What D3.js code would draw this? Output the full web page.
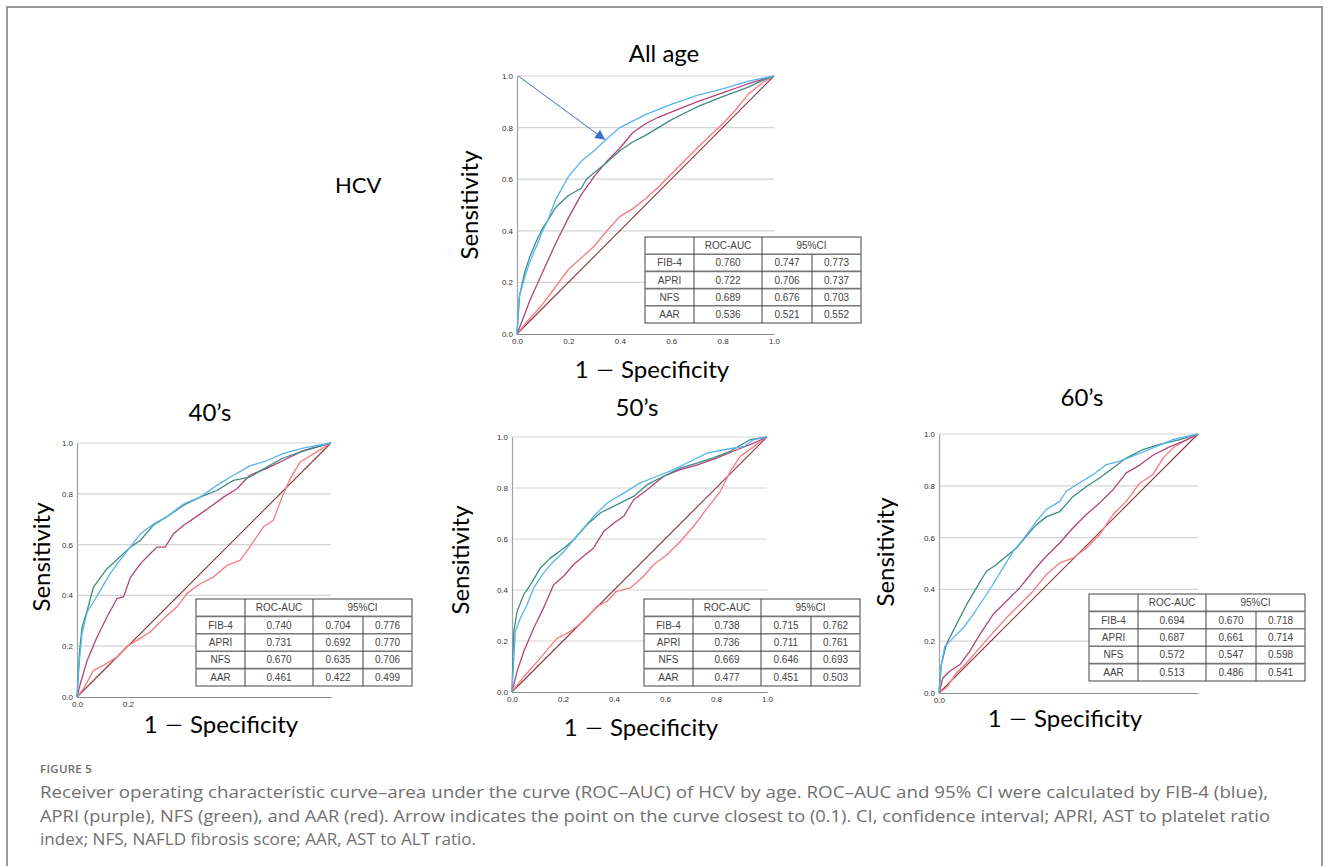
<!DOCTYPE html>
<html><head><meta charset="utf-8">
<script src="https://cdn.jsdelivr.net/npm/d3@7"></script>
<style>
html,body{margin:0;padding:0;background:#fff;}
svg{display:block;}
</style></head>
<body>
<svg id="c" width="1330" height="866"></svg>
<script>
// ---------- DATA ----------
const seriesNames = ["FIB-4", "APRI", "NFS", "AAR"];
const panelTitles = ["All age", "40’s", "50’s", "60’s"];
const yTickValues = [0, 0.2, 0.4, 0.6, 0.8, 1.0];
const xTicksAllAge = [0, 0.2, 0.4, 0.6, 0.8, 1.0];
const xTicks40 = [0, 0.2];
const xTicks50 = [0, 0.2, 0.4, 0.6, 0.8, 1.0];
const xTicks60 = [0];

// All age
const allAgeFIB4 = [[0,0],[0.005,0.10],[0.01,0.15],[0.03,0.22],[0.05,0.28],[0.08,0.35],[0.10,0.40],[0.12,0.44],[0.15,0.52],[0.20,0.61],[0.25,0.67],[0.30,0.71],[0.35,0.757],[0.40,0.80],[0.50,0.85],[0.60,0.89],[0.70,0.925],[0.80,0.95],[0.90,0.98],[1,1]];
const allAgeAPRI = [[0,0],[0.02,0.05],[0.05,0.13],[0.10,0.24],[0.15,0.35],[0.20,0.45],[0.25,0.54],[0.30,0.61],[0.35,0.67],[0.40,0.72],[0.45,0.78],[0.50,0.815],[0.55,0.84],[0.60,0.86],[0.70,0.90],[0.80,0.935],[0.90,0.97],[1,1]];
const allAgeNFS = [[0,0],[0.01,0.15],[0.03,0.24],[0.05,0.30],[0.08,0.37],[0.10,0.41],[0.12,0.44],[0.15,0.49],[0.20,0.537],[0.25,0.565],[0.27,0.60],[0.35,0.666],[0.40,0.71],[0.45,0.744],[0.50,0.77],[0.60,0.83],[0.70,0.88],[0.80,0.92],[0.90,0.957],[0.95,0.98],[1,1]];
const allAgeAAR = [[0,0],[0.05,0.06],[0.10,0.116],[0.20,0.25],[0.30,0.34],[0.35,0.40],[0.40,0.455],[0.45,0.485],[0.50,0.524],[0.55,0.57],[0.60,0.62],[0.70,0.72],[0.80,0.815],[0.85,0.867],[0.90,0.93],[0.95,0.97],[1,1]];

// 40's
const age40FIB4 = [[0,0],[0.01,0.15],[0.02,0.25],[0.04,0.335],[0.065,0.374],[0.092,0.42],[0.13,0.485],[0.17,0.54],[0.21,0.59],[0.25,0.643],[0.30,0.68],[0.354,0.71],[0.42,0.76],[0.485,0.787],[0.55,0.833],[0.616,0.873],[0.68,0.91],[0.747,0.93],[0.81,0.958],[0.89,0.98],[1,1]];
const age40APRI = [[0,0],[0.013,0.052],[0.04,0.144],[0.079,0.236],[0.118,0.315],[0.157,0.387],[0.183,0.394],[0.21,0.47],[0.25,0.525],[0.288,0.564],[0.315,0.59],[0.347,0.59],[0.38,0.643],[0.42,0.676],[0.47,0.71],[0.524,0.748],[0.577,0.787],[0.63,0.82],[0.68,0.873],[0.747,0.90],[0.81,0.93],[0.89,0.97],[1,1]];
const age40NFS = [[0,0],[0.01,0.18],[0.02,0.275],[0.04,0.34],[0.065,0.433],[0.085,0.46],[0.118,0.505],[0.157,0.54],[0.21,0.59],[0.25,0.617],[0.30,0.676],[0.354,0.71],[0.42,0.755],[0.485,0.787],[0.55,0.813],[0.616,0.853],[0.68,0.866],[0.747,0.905],[0.81,0.94],[0.878,0.964],[1,1]];
const age40AAR = [[0,0],[0.026,0.033],[0.065,0.105],[0.105,0.125],[0.157,0.157],[0.197,0.20],[0.236,0.223],[0.288,0.256],[0.34,0.308],[0.393,0.354],[0.432,0.407],[0.485,0.446],[0.537,0.472],[0.59,0.518],[0.642,0.538],[0.68,0.59],[0.734,0.67],[0.773,0.696],[0.81,0.794],[0.84,0.86],[0.878,0.925],[0.944,0.965],[1,1]];

// 50's
const age50FIB4 = [[0,0],[0.007,0.133],[0.013,0.238],[0.033,0.29],[0.059,0.342],[0.085,0.408],[0.124,0.467],[0.163,0.512],[0.203,0.55],[0.242,0.597],[0.28,0.642],[0.32,0.689],[0.373,0.741],[0.438,0.78],[0.503,0.82],[0.569,0.846],[0.634,0.872],[0.70,0.905],[0.765,0.937],[0.83,0.95],[0.91,0.963],[0.948,0.99],[1,1]];
const age50APRI = [[0,0],[0.02,0.081],[0.046,0.159],[0.085,0.25],[0.124,0.33],[0.163,0.42],[0.203,0.455],[0.242,0.50],[0.28,0.532],[0.32,0.565],[0.36,0.63],[0.40,0.663],[0.438,0.689],[0.477,0.754],[0.53,0.793],[0.595,0.846],[0.66,0.872],[0.725,0.89],[0.804,0.918],[0.882,0.95],[0.948,0.976],[1,1]];
const age50NFS = [[0,0],[0.007,0.238],[0.02,0.316],[0.046,0.382],[0.072,0.42],[0.111,0.486],[0.15,0.525],[0.203,0.564],[0.242,0.597],[0.294,0.656],[0.346,0.702],[0.412,0.735],[0.477,0.767],[0.53,0.813],[0.595,0.846],[0.66,0.878],[0.725,0.898],[0.79,0.918],[0.856,0.944],[0.935,0.99],[1,1]];
const age50AAR = [[0,0],[0.046,0.06],[0.111,0.133],[0.176,0.21],[0.229,0.238],[0.28,0.277],[0.333,0.336],[0.373,0.356],[0.41,0.395],[0.464,0.408],[0.516,0.454],[0.556,0.50],[0.608,0.538],[0.66,0.59],[0.712,0.65],[0.765,0.72],[0.817,0.787],[0.856,0.865],[0.895,0.924],[0.948,0.963],[1,1]];

// 60's
const age60FIB4 = [[0,0],[0.009,0.109],[0.022,0.18],[0.054,0.212],[0.093,0.251],[0.131,0.302],[0.17,0.36],[0.208,0.418],[0.247,0.483],[0.286,0.547],[0.324,0.592],[0.376,0.663],[0.414,0.708],[0.466,0.74],[0.492,0.78],[0.543,0.812],[0.595,0.843],[0.646,0.882],[0.698,0.895],[0.762,0.92],[0.826,0.946],[0.903,0.978],[1,1]];
const age60APRI = [[0,0],[0.015,0.058],[0.041,0.084],[0.08,0.109],[0.118,0.16],[0.157,0.225],[0.208,0.302],[0.26,0.354],[0.311,0.405],[0.363,0.47],[0.414,0.528],[0.466,0.579],[0.517,0.637],[0.569,0.689],[0.62,0.734],[0.672,0.785],[0.723,0.85],[0.775,0.88],[0.826,0.918],[0.89,0.95],[0.955,0.976],[1,1]];
const age60NFS = [[0,0],[0.009,0.109],[0.028,0.187],[0.067,0.264],[0.106,0.34],[0.144,0.405],[0.183,0.47],[0.221,0.495],[0.26,0.528],[0.30,0.56],[0.337,0.605],[0.376,0.65],[0.414,0.68],[0.466,0.70],[0.517,0.758],[0.569,0.797],[0.62,0.83],[0.672,0.869],[0.723,0.907],[0.787,0.94],[0.852,0.96],[0.93,0.978],[1,1]];
const age60AAR = [[0,0],[0.028,0.019],[0.067,0.077],[0.106,0.116],[0.157,0.174],[0.208,0.232],[0.26,0.29],[0.311,0.341],[0.363,0.393],[0.414,0.457],[0.466,0.502],[0.517,0.521],[0.569,0.56],[0.62,0.611],[0.672,0.689],[0.723,0.74],[0.775,0.81],[0.826,0.843],[0.865,0.907],[0.903,0.946],[0.955,0.978],[1,1]];

// tables: ROC-AUC, CI low, CI high
const aucAllAge = ["0.760","0.722","0.689","0.536"];
const ciLowAllAge = ["0.747","0.706","0.676","0.521"];
const ciHighAllAge = ["0.773","0.737","0.703","0.552"];
const auc40 = ["0.740","0.731","0.670","0.461"];
const ciLow40 = ["0.704","0.692","0.635","0.422"];
const ciHigh40 = ["0.776","0.770","0.706","0.499"];
const auc50 = ["0.738","0.736","0.669","0.477"];
const ciLow50 = ["0.715","0.711","0.646","0.451"];
const ciHigh50 = ["0.762","0.761","0.693","0.503"];
const auc60 = ["0.694","0.687","0.572","0.513"];
const ciLow60 = ["0.670","0.661","0.547","0.486"];
const ciHigh60 = ["0.718","0.714","0.598","0.541"];

const arrowFrom = [0.005, 1.0];
const arrowTo = [0.34, 0.755];

const captionLabel = "FIGURE 5";
const captionLines = [
  "Receiver operating characteristic curve–area under the curve (ROC–AUC) of HCV by age. ROC–AUC and 95% CI were calculated by FIB-4 (blue),",
  "APRI (purple), NFS (green), and AAR (red). Arrow indicates the point on the curve closest to (0.1). CI, confidence interval; APRI, AST to platelet ratio",
  "index; NFS, NAFLD fibrosis score; AAR, AST to ALT ratio."
];

// ---------- DRAW ----------
const svg = d3.select("#c");
const colors = {"FIB-4":"#56b4ef","APRI":"#b2447a","NFS":"#3c8c82","AAR":"#f7797f"};
const titleFont = "Lato, 'Noto Sans', sans-serif";
const tickFont = "'Liberation Sans', Arial, sans-serif";

// outer frame
svg.append("rect").attr("x",7).attr("y",7).attr("width",1315).attr("height",900)
  .attr("fill","none").attr("stroke","#7a7a7a").attr("stroke-width",1.5);

const defs = svg.append("defs");
defs.append("marker").attr("id","ah").attr("viewBox","0 0 10 10").attr("refX",9).attr("refY",5)
  .attr("markerWidth",14).attr("markerHeight",10).attr("markerUnits","userSpaceOnUse").attr("orient","auto")
  .append("path").attr("d","M0,0 L10,5 L0,10 z").attr("fill","#3f6fcf");

const panels = [
  {title: panelTitles[0], x0:517, x1:774, y0:334, y1:76, xt:xTicksAllAge,
   series:[allAgeFIB4, allAgeAPRI, allAgeNFS, allAgeAAR], auc:aucAllAge, lo:ciLowAllAge, hi:ciHighAllAge,
   tbl:{x:645,y:237,h:86}, tx:664, ty:62, sx:470, sy:205, spx:652, spy:378, arrow:true},
  {title: panelTitles[1], x0:77, x1:331, y0:697, y1:443, xt:xTicks40,
   series:[age40FIB4, age40APRI, age40NFS, age40AAR], auc:auc40, lo:ciLow40, hi:ciHigh40,
   tbl:{x:196,y:599,h:87}, tx:210, ty:421, sx:42, sy:557, spx:221, spy:733},
  {title: panelTitles[2], x0:512, x1:767, y0:692, y1:437, xt:xTicks50,
   series:[age50FIB4, age50APRI, age50NFS, age50AAR], auc:auc50, lo:ciLow50, hi:ciHigh50,
   tbl:{x:644,y:599,h:87}, tx:637, ty:416, sx:461, sy:560, spx:641, spy:736},
  {title: panelTitles[3], x0:939, x1:1198, y0:693, y1:434, xt:xTicks60,
   series:[age60FIB4, age60APRI, age60NFS, age60AAR], auc:auc60, lo:ciLow60, hi:ciHigh60,
   tbl:{x:1089,y:594,h:87}, tx:1082, ty:406, sx:886, sy:552, spx:1065, spy:727}
];

panels.forEach(p => {
  const x = d3.scaleLinear().domain([0,1]).range([p.x0, p.x1]);
  const y = d3.scaleLinear().domain([0,1]).range([p.y0, p.y1]);
  const g = svg.append("g");

  // gridlines
  g.append("g").selectAll("line").data(yTickValues.filter(v=>v>0)).join("line")
    .attr("x1",p.x0).attr("x2",p.x1).attr("y1",d=>y(d)).attr("y2",d=>y(d))
    .attr("stroke","#d4d4d4").attr("stroke-width",1.2);

  // axes
  const ya = d3.axisLeft(y).tickValues(yTickValues).tickFormat(d3.format(".1f")).tickSize(0).tickPadding(4);
  const yg = g.append("g").attr("transform",`translate(${p.x0},0)`).call(ya);
  yg.select(".domain").attr("stroke","#a0a0a0").attr("stroke-width",1.2);
  yg.selectAll("text").attr("font-family",tickFont).attr("font-size",8).attr("fill","#333").attr("dy","0.32em");

  const xa = d3.axisBottom(x).tickValues(p.xt).tickFormat(d3.format(".1f")).tickSize(0).tickPadding(4);
  const xg = g.append("g").attr("transform",`translate(0,${p.y0})`).call(xa);
  xg.select(".domain").attr("stroke","#8a8a8a").attr("stroke-width",1.2);
  xg.selectAll("text").attr("font-family",tickFont).attr("font-size",8).attr("fill","#333");

  // diagonal
  g.append("line").attr("x1",x(0)).attr("y1",y(0)).attr("x2",x(1)).attr("y2",y(1))
    .attr("stroke","#86393c").attr("stroke-width",1.1);

  const line = d3.line().x(d=>x(d[0])).y(d=>y(d[1]));
  // draw order: AAR, APRI, NFS, FIB-4
  [3,1,2,0].forEach(i => {
    g.append("path").datum(p.series[i]).attr("d",line).attr("fill","none")
      .attr("stroke",colors[seriesNames[i]]).attr("stroke-width",1.3).attr("stroke-linejoin","round");
  });

  if (p.arrow) {
    g.append("line").attr("x1",x(arrowFrom[0])).attr("y1",y(arrowFrom[1]))
      .attr("x2",x(arrowTo[0])).attr("y2",y(arrowTo[1]))
      .attr("stroke","#3f6fcf").attr("stroke-width",1).attr("marker-end","url(#ah)");
  }

  // table
  const t = p.tbl, cols=[0,49,117,167,216];
  const rh = t.h/5;
  const tg = g.append("g").attr("transform",`translate(${t.x},${t.y})`);
  tg.append("rect").attr("width",216).attr("height",t.h).attr("fill","#fff").attr("stroke","#444").attr("stroke-width",1);
  for (let r=1;r<5;r++){
    tg.append("line").attr("x1",0).attr("x2",216).attr("y1",r*rh).attr("y2",r*rh).attr("stroke","#777").attr("stroke-width",1.6);
  }
  [1,2].forEach(c=>tg.append("line").attr("x1",cols[c]).attr("x2",cols[c]).attr("y1",0).attr("y2",t.h).attr("stroke","#444"));
  tg.append("line").attr("x1",cols[3]).attr("x2",cols[3]).attr("y1",rh).attr("y2",t.h).attr("stroke","#444");
  const tf = (txt,cx,row)=>tg.append("text").attr("x",cx).attr("y",row*rh+rh/2+3.5).attr("text-anchor","middle")
     .attr("font-family",tickFont).attr("font-size",10).attr("fill","#444").text(txt);
  tf("ROC-AUC",(cols[1]+cols[2])/2,0);
  tf("95%CI",(cols[2]+cols[4])/2,0);
  seriesNames.forEach((s,i)=>{
    tf(s,(cols[0]+cols[1])/2,i+1);
    tf(p.auc[i],(cols[1]+cols[2])/2,i+1);
    tf(p.lo[i],(cols[2]+cols[3])/2,i+1);
    tf(p.hi[i],(cols[3]+cols[4])/2,i+1);
  });

  // labels
  svg.append("text").attr("x",p.tx).attr("y",p.ty).attr("text-anchor","middle")
    .attr("font-family",titleFont).attr("font-size",24).attr("fill","#000").text(p.title);
  svg.append("text").attr("transform",`translate(${p.sx},${p.sy}) rotate(-90)`).attr("text-anchor","middle")
    .attr("dy","0.35em").attr("font-family",titleFont).attr("font-size",24).attr("fill","#000").text("Sensitivity");
  const st = svg.append("text").attr("x",p.spx).attr("y",p.spy).attr("text-anchor","middle")
    .attr("font-family",titleFont).attr("font-size",24).attr("fill","#000").attr("xml:space","preserve");
  st.append("tspan").text("1 ");
  st.append("tspan").attr("font-family","'Noto Sans CJK JP'").attr("font-size",20).text("－");
  st.append("tspan").text(" Specificity");
});

svg.append("text").attr("x",335).attr("y",193).attr("font-family",titleFont).attr("font-size",22).attr("fill","#000").text("HCV");

// caption
svg.append("text").attr("x",40).attr("y",773).attr("font-family","'Open Sans', sans-serif").attr("font-size",11.5)
  .attr("font-weight",600).attr("fill","#6b6b6b").attr("letter-spacing",0.3).text(captionLabel);
const capW = [1228, 1230, 436];
captionLines.forEach((l,i)=>{
  svg.append("text").attr("x",40).attr("y",798+i*23.5).attr("font-family","'Open Sans', sans-serif")
    .attr("font-size",16).attr("fill","#707070").attr("textLength",capW[i]).attr("lengthAdjust","spacingAndGlyphs").text(l);
});
</script>
</body></html>
